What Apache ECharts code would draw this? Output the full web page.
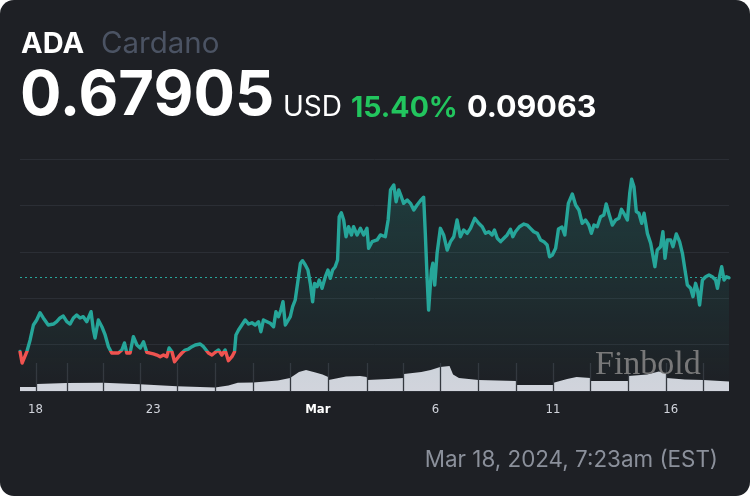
<!DOCTYPE html>
<html><head><meta charset="utf-8">
<script src="https://cdn.jsdelivr.net/npm/echarts@6/dist/echarts.min.js"></script>
<style>
html,body{margin:0;padding:0;background:#ffffff;}
#c{width:750px;height:496px;background:#1e2025;border-radius:14px;overflow:hidden;}
</style></head><body><div id="c"></div>
<script>
// ---- header texts ----
const ticker = 'ADA';
const coinName = 'Cardano';
const lastPrice = 0.67905;
const currency = 'USD';
const changePct = '15.40%';
const changeAbs = 0.09063;
const stamp = 'Mar 18, 2024, 7:23am (EST)';
const watermark = 'Finbold';
const prevClose = +(lastPrice - changeAbs).toFixed(5);

// ---- price series: days since 2024-02-18 00:00 UTC, price in USD ----
const dayOffsets = [-0.66,-0.57,-0.37,-0.23,-0.09,0.05,0.19,0.33,0.54,0.76,0.90,1.04,1.18,1.33,1.47,1.61,1.75,1.89,2.03,2.18,2.36,2.46,2.53,2.67,2.82,2.96,3.10,3.24,3.38,3.52,3.67,3.78,3.88,4.02,4.16,4.31,4.45,4.59,4.73,4.87,5.01,5.16,5.30,5.44,5.58,5.68,5.80,5.91,6.08,6.22,6.36,6.50,6.65,6.79,7.00,7.14,7.35,7.50,7.64,7.78,7.92,8.06,8.20,8.35,8.46,8.52,8.63,8.77,8.91,9.06,9.20,9.34,9.48,9.58,9.69,9.84,9.98,10.12,10.22,10.33,10.43,10.52,10.62,10.69,10.83,10.93,11.04,11.16,11.26,11.35,11.47,11.58,11.68,11.78,11.86,11.97,12.06,12.18,12.32,12.43,12.53,12.63,12.74,12.84,12.91,13.00,13.10,13.20,13.31,13.43,13.52,13.67,13.81,13.95,14.09,14.16,14.31,14.52,14.66,14.87,14.99,15.09,15.23,15.33,15.44,15.55,15.65,15.80,15.94,16.08,16.22,16.36,16.50,16.57,16.65,16.71,16.83,16.89,16.97,17.07,17.21,17.35,17.50,17.64,17.78,17.92,18.06,18.20,18.35,18.49,18.67,18.84,18.99,19.13,19.27,19.41,19.51,19.63,19.77,19.91,20.05,20.19,20.29,20.40,20.57,20.76,20.90,21.04,21.18,21.33,21.47,21.61,21.75,21.85,21.97,22.11,22.23,22.38,22.50,22.65,22.82,22.96,23.10,23.24,23.38,23.52,23.63,23.74,23.88,24.02,24.16,24.26,24.37,24.52,24.66,24.80,24.91,25.01,25.16,25.26,25.34,25.44,25.54,25.65,25.77,25.87,26.01,26.15,26.22,26.33,26.43,26.57,26.67,26.76,26.86,27.00,27.10,27.24,27.38,27.50,27.61,27.71,27.85,27.95,28.06,28.14,28.23,28.35,28.49,28.63,28.77,28.91,28.99,29.09,29.17,29.27,29.37,29.48];
const prices = [0.5880,0.5737,0.5877,0.6022,0.6207,0.6269,0.6359,0.6294,0.6207,0.6219,0.6248,0.6294,0.6318,0.6248,0.6219,0.6294,0.6331,0.6294,0.6310,0.6248,0.6372,0.6145,0.6046,0.6269,0.6186,0.6084,0.5939,0.5861,0.5861,0.5861,0.5898,0.5985,0.5861,0.5861,0.6063,0.5960,0.5923,0.6001,0.5870,0.5860,0.5850,0.5836,0.5815,0.5836,0.5815,0.5923,0.5877,0.5753,0.5815,0.5861,0.5898,0.5910,0.5939,0.5960,0.5972,0.5939,0.5860,0.5836,0.5870,0.5898,0.5836,0.5898,0.5766,0.5815,0.5877,0.6084,0.6145,0.6207,0.6269,0.6219,0.6235,0.6207,0.6248,0.6124,0.6269,0.6248,0.6228,0.6186,0.6372,0.6310,0.6392,0.6495,0.6207,0.6186,0.6310,0.6433,0.6516,0.6763,0.6970,0.7002,0.6949,0.6887,0.6722,0.6495,0.6722,0.6680,0.6763,0.6661,0.6804,0.6887,0.6784,0.6887,0.6928,0.7010,0.7546,0.7595,0.7505,0.7298,0.7422,0.7320,0.7422,0.7320,0.7402,0.7320,0.7402,0.7155,0.7237,0.7258,0.7320,0.7298,0.7505,0.7876,0.7938,0.7731,0.7876,0.7793,0.7711,0.7752,0.7711,0.7629,0.7690,0.7743,0.7786,0.7340,0.6763,0.6392,0.6887,0.6970,0.6701,0.7093,0.7402,0.7320,0.7134,0.7237,0.7298,0.7505,0.7298,0.7382,0.7340,0.7402,0.7526,0.7464,0.7422,0.7340,0.7360,0.7320,0.7382,0.7279,0.7237,0.7279,0.7320,0.7390,0.7298,0.7360,0.7422,0.7455,0.7443,0.7402,0.7360,0.7340,0.7258,0.7237,0.7196,0.7051,0.7072,0.7155,0.7394,0.7418,0.7320,0.7711,0.7826,0.7690,0.7629,0.7464,0.7505,0.7443,0.7340,0.7443,0.7422,0.7546,0.7567,0.7703,0.7588,0.7443,0.7505,0.7526,0.7637,0.7588,0.7505,0.7835,0.8008,0.7917,0.7608,0.7588,0.7464,0.7588,0.7340,0.7217,0.7237,0.6928,0.7134,0.7175,0.7360,0.7032,0.7258,0.7258,0.7175,0.7332,0.7237,0.7093,0.6887,0.6701,0.6661,0.6557,0.6722,0.6640,0.6455,0.6763,0.6804,0.6825,0.6804,0.6763,0.6661,0.6825,0.6928,0.6763,0.6804,0.67905];

// ---- volume (million USD), days since 2024-02-18 ----
const volumeDays = [-0.66,0.04,0.06,1.32,1.34,2.88,2.90,4.44,4.46,6.01,6.03,7.63,7.65,8.2,8.6,9.25,9.27,10.3,10.82,10.84,11.2,11.5,11.9,12.2,12.44,12.46,13.2,13.8,14.08,14.10,15.0,15.64,15.66,16.4,16.8,17.20,17.22,17.6,17.75,18.0,18.83,18.85,20.42,20.44,22.00,22.02,22.6,23.0,23.59,23.61,25.19,25.21,26.0,26.5,26.81,26.83,27.6,28.38,28.40,29.48];
const volumes = [240,240,420,490,500,500,405,405,285,285,210,210,240,330,500,510,600,640,790,820,1150,1270,1120,1000,850,670,880,910,850,670,730,790,1030,1150,1270,1450,1520,1520,1000,790,670,600,600,360,360,500,730,850,790,600,600,910,1000,1180,1050,790,700,670,580,580];
const volumeBreaks = [0.05,1.33,2.89,4.45,6.02,7.64,9.26,10.83,12.45,14.09,15.65,17.21,18.84,20.43,22.01,23.60,25.20,26.82,28.39];

// ---- x tick labels (days since 2024-02-18) ----
const tickDays = [0, 5, 12, 17, 22, 27];
const tickLabels = ['18', '23', 'Mar', '6', '11', '16'];

const priceData = dayOffsets.map((d, i) => [d, prices[i]]);
const volumeData = volumeDays.map((d, i) => [d, volumes[i]]);
const xMin = dayOffsets[0];
const xMax = dayOffsets[dayOffsets.length - 1];

const BG = '#1e2025';
const TEAL = '#26a69a';
const RED = '#ef5350';
const LABEL_FONT = '"DejaVu Sans Condensed","Liberation Sans Narrow",Roboto,sans-serif';

function report(tag, e) { setTimeout(function () { throw new Error(tag + ': ' + (e && e.stack ? e.stack.slice(0, 300) : e)); }, 0); }

const chart = echarts.init(document.getElementById('c'), null, {renderer: 'canvas'});
const option = {
  backgroundColor: 'transparent',
  animation: false,
  grid: [
    {left: 20, right: 21, top: 159, bottom: 105},
    {left: 20, right: 21, top: 363, bottom: 105}
  ],
  xAxis: [
    {
      type: 'value', gridIndex: 0, min: xMin, max: xMax,
      axisLine: {show: false}, axisTick: {show: false}, splitLine: {show: false},
      axisLabel: {
        customValues: tickDays,
        margin: 12,
        color: '#d1d4dc',
        fontSize: 13,
        fontFamily: LABEL_FONT,
        formatter: function (v) {
          const i = tickDays.indexOf(v);
          const s = i >= 0 ? tickLabels[i] : '';
          return s === 'Mar' ? '{b|' + s + '}' : s;
        },
        rich: {b: {fontWeight: 'bold', color: '#ffffff', fontSize: 13, fontFamily: LABEL_FONT}}
      }
    },
    {type: 'value', gridIndex: 1, min: xMin, max: xMax, show: false, splitLine: {show: false}}
  ],
  yAxis: [
    {type: 'value', gridIndex: 0, min: 0.53913, max: 0.82589, show: false, splitLine: {show: false}},
    {type: 'value', gridIndex: 0, min: 0, max: 5, interval: 1, show: true,
      axisLine: {show: false}, axisTick: {show: false}, axisLabel: {show: false},
      splitLine: {show: true, lineStyle: {color: '#2b2e35', width: 1}}},
    {type: 'value', gridIndex: 1, min: 0, max: 1700, show: false, splitLine: {show: false}}
  ],
  visualMap: {
    type: 'piecewise', show: false, seriesIndex: 0, dimension: 1,
    pieces: [{min: 0, max: prevClose, color: RED}, {gt: prevClose, max: 5, color: TEAL}]
  },
  series: [
    {
      type: 'line', name: 'price', xAxisIndex: 0, yAxisIndex: 0, z: 4,
      data: priceData, showSymbol: false, symbol: 'none',
      lineStyle: {width: 3.4, join: 'round', cap: 'round'},
      areaStyle: {
        color: new echarts.graphic.LinearGradient(0, 0, 0, 1, [
          {offset: 0, color: 'rgba(38,166,154,0.30)'},
          {offset: 1, color: 'rgba(38,166,154,0.0)'}
        ])
      },
      markLine: {
        silent: true, symbol: 'none', label: {show: false},
        lineStyle: {color: TEAL, type: [2, 3], width: 1, opacity: 1},
        data: [{yAxis: lastPrice}]
      }
    },
    {
      type: 'line', name: 'volume', xAxisIndex: 1, yAxisIndex: 2, z: 1,
      data: volumeData, showSymbol: false, symbol: 'none',
      lineStyle: {width: 0},
      areaStyle: {color: '#d1d4dc', opacity: 1},
      markLine: {
        silent: true, symbol: 'none', label: {show: false}, z: 2,
        lineStyle: {color: '#34373e', type: 'solid', width: 1.3, opacity: 1},
        data: volumeBreaks.map(d => ({xAxis: d}))
      }
    }
  ],
  graphic: [
    {type: 'text', x: 21, y: 44, z: 10, style: {text: ticker, fill: '#ffffff', font: 'bold 29px Inter', verticalAlign: 'middle'}},
    {type: 'text', x: 101, y: 44, z: 10, style: {text: coinName, fill: '#4b5363', font: '29.5px Inter', verticalAlign: 'middle'}},
    {type: 'text', x: 20, y: 97, z: 10, style: {text: lastPrice.toFixed(5), fill: '#ffffff', font: 'bold 61.5px Inter', verticalAlign: 'middle'}},
    {type: 'text', x: 283, y: 108, z: 10, style: {text: currency, fill: '#ffffff', font: '28px Inter', verticalAlign: 'middle'}},
    {type: 'text', x: 351, y: 108, z: 10, style: {text: changePct, fill: '#22c55e', font: 'bold 28.5px Inter', verticalAlign: 'middle'}},
    {type: 'text', x: 467, y: 108, z: 10, style: {text: changeAbs.toFixed(5), fill: '#ffffff', font: 'bold 30.5px Inter', verticalAlign: 'middle'}},
    {type: 'text', x: 718, y: 460, z: 10, style: {text: stamp, fill: '#8b909b', font: '22.4px Inter', align: 'right', verticalAlign: 'middle'}},
    {type: 'text', x: 595, y: 365, z: 20, style: {text: watermark, fill: 'rgba(128,128,128,0.92)', font: '34px "Liberation Serif","DejaVu Serif",serif', verticalAlign: 'middle'}}
  ]
};

try {
  chart.setOption(option);
} catch (e) {
  report('render', e);
  option.visualMap = undefined;
  option.series[0].lineStyle.color = TEAL;
  chart.clear();
  chart.setOption(option, true);
}
</script>
</body></html>
